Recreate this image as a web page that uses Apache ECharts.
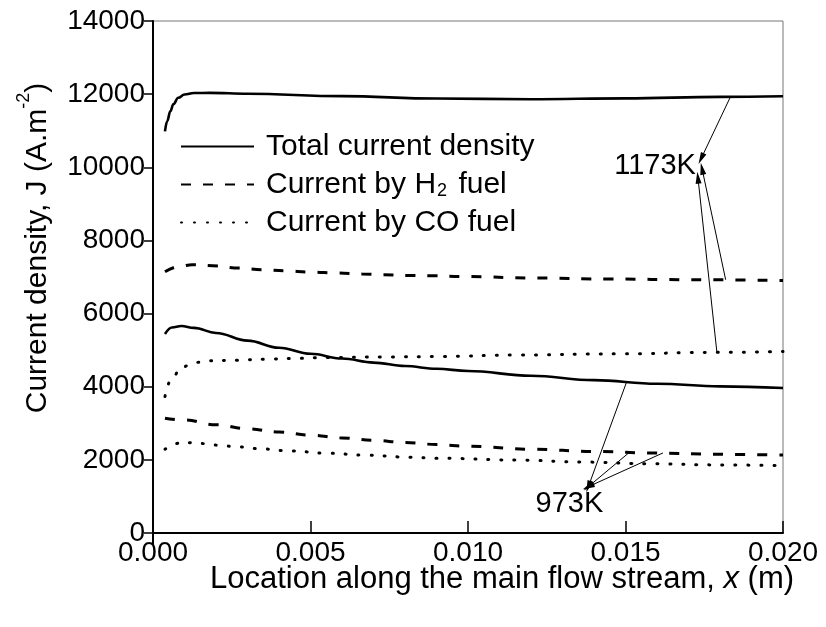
<!DOCTYPE html>
<html>
<head>
<meta charset="utf-8">
<script src="https://cdn.jsdelivr.net/npm/echarts@6/dist/echarts.min.js"></script>
<style>
  html, body { margin: 0; padding: 0; background: #fff; }
  #chart { width: 826px; height: 627px; }
</style>
</head>
<body>
<div id="chart"></div>
<script>
// Current density along the flow direction (m), J in A/m^2

// 1173 K
const xTot1173 = [0.00038, 0.00045, 0.00055, 0.00065, 0.0008, 0.0010, 0.0013, 0.0018, 0.0030, 0.0060, 0.0090, 0.0120, 0.0150, 0.0180, 0.0200];
const jTot1173 = [10984, 11260, 11530, 11730, 11900, 11990, 12030, 12035, 12010, 11945, 11880, 11860, 11885, 11925, 11942];

const xH2_1173 = [0.00038, 0.00086, 0.00124, 0.0019, 0.00273, 0.00346, 0.00419, 0.00498, 0.00587, 0.00664, 0.0073, 0.0081, 0.00886, 0.00975, 0.0122, 0.0145, 0.01714, 0.0200];
const jH2_1173 = [7144, 7294, 7335, 7308, 7245, 7198, 7171, 7136, 7108, 7081, 7062, 7042, 7034, 7015, 6971, 6944, 6925, 6906];

const xCO1173 = [0.00038, 0.00056, 0.00091, 0.00133, 0.00175, 0.00267, 0.00356, 0.00441, 0.00552, 0.0073, 0.0090, 0.01156, 0.01473, 0.0179, 0.0200];
const jCO1173 = [3731, 4169, 4535, 4661, 4708, 4727, 4754, 4771, 4800, 4812, 4825, 4865, 4899, 4940, 4962];

// 973 K
const xTot973 = [0.00038, 0.0006, 0.0009, 0.0013, 0.0020, 0.0030, 0.0040, 0.0050, 0.0060, 0.0070, 0.0080, 0.0090, 0.0100, 0.0120, 0.0140, 0.0160, 0.0180, 0.0200];
const jTot973 = [5440, 5620, 5660, 5610, 5470, 5260, 5065, 4900, 4770, 4660, 4565, 4490, 4430, 4300, 4180, 4080, 4010, 3965];

const xH2_973 = [0.00038, 0.0010, 0.0020, 0.0030, 0.0040, 0.0050, 0.0060, 0.0070, 0.0080, 0.0090, 0.0100, 0.0120, 0.0140, 0.0160, 0.0180, 0.0200];
const jH2_973 = [3140, 3090, 2960, 2850, 2760, 2675, 2600, 2535, 2475, 2420, 2370, 2290, 2230, 2185, 2150, 2130];

const xCO973 = [0.00038, 0.00086, 0.00127, 0.0017, 0.00213, 0.0026, 0.00346, 0.00435, 0.00552, 0.00679, 0.00816, 0.0090, 0.01156, 0.01365, 0.01578, 0.0179, 0.0200];
const jCO973 = [2291, 2460, 2472, 2440, 2395, 2362, 2299, 2244, 2181, 2127, 2072, 2045, 1995, 1940, 1893, 1862, 1842];

// axis ticks
const xTicks = [0, 0.005, 0.010, 0.015, 0.020];
const yTicks = [0, 2000, 4000, 6000, 8000, 10000, 12000, 14000];

// legend names
const names = ['Total current density', 'Current by H2 fuel', 'Current by CO fuel'];

// temperature annotations: label position and arrows [from curve point] -> [tip]
const label1173 = { text: '1173K', at: [0.01594, 10045] };
const arrows1173 = [
  [[0.01832, 11906], [0.01740, 10236]],
  [[0.01818, 6925], [0.01743, 9963]],
  [[0.01790, 4954], [0.01730, 9716]]
];
const label973 = { text: '973K', at: [0.01322, 794] };
const arrows973 = [
  [[0.01504, 4141], [0.01382, 1267]],
  [[0.01514, 2217], [0.01382, 1267]],
  [[0.01619, 2190], [0.01382, 1267]]
];

const FONT = 'Liberation Sans, Arial, sans-serif';
const zip = (xs, ys) => xs.map((x, i) => [x, ys[i]]);

const styles = {
  total: { color: '#000', width: 2.6, type: 'solid' },
  h2: { color: '#000', width: 3, type: [10, 12] },
  co: { color: '#000', width: 3, type: [1, 12], cap: 'round' }
};

function lineSeries(name, data, ls, extra) {
  return Object.assign({
    type: 'line',
    name: name,
    data: data,
    showSymbol: false,
    symbol: 'none',
    smooth: 0.4,
    smoothMonotone: 'x',
    lineStyle: ls,
    itemStyle: { color: '#000' },
    animation: false,
    silent: true,
    z: 3
  }, extra || {});
}

function arrowData(list) {
  return list.map(a => [
    { coord: a[0], symbol: 'none' },
    { coord: a[1], symbol: 'path://M5,0 L10,16 L0,16 Z', symbolSize: [6, 12] }
  ]);
}

const chart = echarts.init(document.getElementById('chart'), null, { renderer: 'canvas' });

const option = {
  backgroundColor: '#fff',
  animation: false,
  textStyle: { fontFamily: FONT, color: '#000' },
  grid: {
    left: 153, right: 43, top: 21, bottom: 94,
    show: true, borderColor: '#777', borderWidth: 1, backgroundColor: 'transparent'
  },
  xAxis: {
    type: 'value',
    min: xTicks[0], max: xTicks[xTicks.length - 1], interval: 0.005,
    splitLine: { show: false },
    axisLine: { onZero: false, lineStyle: { color: '#000', width: 2 } },
    axisTick: { inside: true, length: 12, lineStyle: { color: '#000', width: 1.5 } },
    axisLabel: {
      margin: 6, fontSize: 28, color: '#000', fontFamily: FONT,
      formatter: v => v.toFixed(3)
    }
  },
  yAxis: {
    type: 'value',
    min: yTicks[0], max: yTicks[yTicks.length - 1], interval: 2000,
    splitLine: { show: false },
    axisLine: { onZero: false, lineStyle: { color: '#000', width: 2 } },
    axisTick: { inside: false, length: 9, lineStyle: { color: '#000', width: 1.5 } },
    axisLabel: { margin: 8, fontSize: 28, color: '#000', fontFamily: FONT, formatter: v => String(v) }
  },
  legend: {
    data: names,
    orient: 'vertical',
    left: 180, top: 131,
    padding: 0,
    itemWidth: 73, itemHeight: 14, itemGap: 7,
    selectedMode: false,
    itemStyle: { opacity: 0 },
    textStyle: {
      fontFamily: FONT, fontSize: 30, color: '#000', lineHeight: 31,
      rich: {
        g: { width: 7, fontSize: 30, lineHeight: 31 },
        a: { fontFamily: FONT, fontSize: 30, color: '#000', lineHeight: 31, verticalAlign: 'middle' },
        sub: { fontFamily: FONT, fontSize: 18, color: '#000', lineHeight: 18, verticalAlign: 'bottom', padding: [0, 3, 0, 1] }
      }
    },
    formatter: function (name) {
      if (name === names[1]) return '{g|}{a|Current by H}{sub|2}{a| fuel}';
      return '{g|}{a|' + name + '}';
    }
  },
  series: [
    lineSeries(names[0], zip(xTot1173, jTot1173), styles.total, {
      markLine: {
        silent: true, animation: false,
        symbol: ['none', 'none'],
        label: { show: false },
        lineStyle: { color: '#000', width: 1, type: 'solid' },
        emphasis: { disabled: true },
        data: arrowData(arrows1173).concat(arrowData(arrows973))
      }
    }),
    lineSeries(names[1], zip(xH2_1173, jH2_1173), styles.h2),
    lineSeries(names[2], zip(xCO1173, jCO1173), styles.co),
    lineSeries(names[0], zip(xTot973, jTot973), styles.total),
    lineSeries(names[1], zip(xH2_973, jH2_973), styles.h2),
    lineSeries(names[2], zip(xCO973, jCO973), styles.co)
  ]
};

chart.setOption(option);

// titles and temperature labels
const p1173 = chart.convertToPixel({ gridIndex: 0 }, label1173.at);
const p973 = chart.convertToPixel({ gridIndex: 0 }, label973.at);
const origin = chart.convertToPixel({ gridIndex: 0 }, [0, 0]);

chart.setOption({
  graphic: [
    {
      type: 'text',
      x: 502, y: 579,
      style: {
        x: 0, y: 0,
        text: '{a|Location along the main flow stream, }{i|x}{a| (m)}',
        align: 'center', verticalAlign: 'middle',
        rich: {
          a: { fontFamily: FONT, fontSize: 31, fill: '#000' },
          i: { fontFamily: FONT, fontSize: 31, fontStyle: 'italic', fill: '#000' }
        }
      }
    },
    {
      type: 'text',
      x: 34, y: 248, rotation: Math.PI / 2,
      style: {
        x: 0, y: 0,
        text: '{a|Current density, J (A.m}{sup|-2}{a|)}',
        align: 'center', verticalAlign: 'middle',
        rich: {
          a: { fontFamily: FONT, fontSize: 30, fill: '#000', lineHeight: 32, verticalAlign: 'bottom' },
          sup: { fontFamily: FONT, fontSize: 18, fill: '#000', lineHeight: 38, verticalAlign: 'top' }
        }
      }
    },
    {
      type: 'text',
      style: {
        x: p1173[0], y: p1173[1], text: label1173.text,
        fontFamily: FONT, fontSize: 29, fill: '#000',
        align: 'center', verticalAlign: 'middle'
      }
    },
    {
      type: 'text',
      style: {
        x: p973[0], y: p973[1], text: label973.text,
        fontFamily: FONT, fontSize: 29, fill: '#000',
        align: 'center', verticalAlign: 'middle'
      }
    },
    {
      type: 'line',
      shape: { x1: origin[0], y1: origin[1], x2: origin[0], y2: origin[1] + 12 },
      style: { stroke: '#000', lineWidth: 2 }
    }
  ]
});
</script>
</body>
</html>
